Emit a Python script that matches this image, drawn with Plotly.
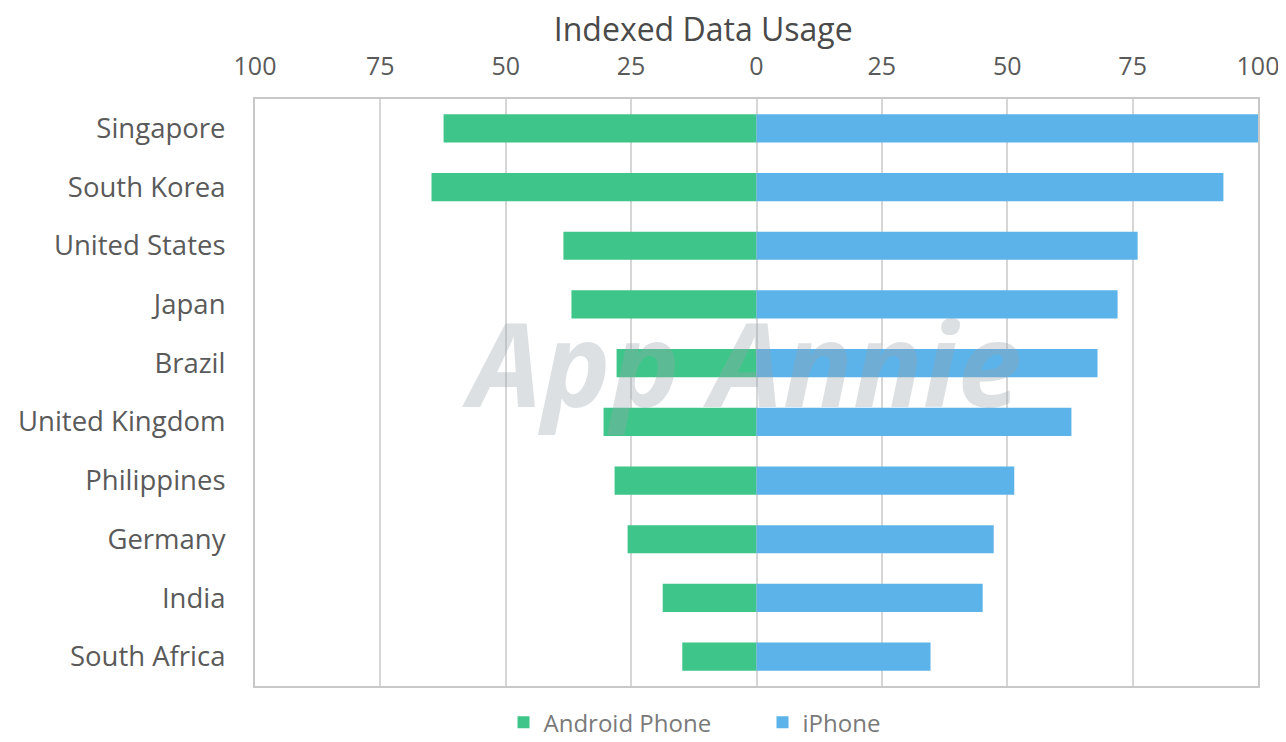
import plotly.graph_objects as go

countries = ["Singapore", "South Korea", "United States", "Japan", "Brazil",
             "United Kingdom", "Philippines", "Germany", "India", "South Africa"]
android = [62.4, 64.8, 38.5, 36.9, 27.9, 30.5, 28.3, 25.7, 18.7, 14.8]
iphone = [100, 93.1, 76.0, 72.0, 68.0, 62.8, 51.4, 47.3, 45.1, 34.7]
tick_vals = [-100, -75, -50, -25, 0, 25, 50, 75, 100]
tick_text = ["100", "75", "50", "25", "0", "25", "50", "75", "100"]

GREEN = "#3EC68A"
BLUE = "#5BB3E9"
FONT = "'Open Sans', sans-serif"

fig = go.Figure()
fig.add_trace(go.Bar(
    y=countries, x=[-v for v in android], orientation="h", name="Android Phone",
    marker=dict(color=GREEN, line=dict(width=0)), width=0.48,
))
fig.add_trace(go.Bar(
    y=countries, x=iphone, orientation="h", name="iPhone",
    marker=dict(color=BLUE, line=dict(width=0)), width=0.48,
))

fig.update_layout(
    width=1278, height=734,
    margin=dict(l=247, r=28, t=91, b=56, autoexpand=False),
    barmode="relative",
    plot_bgcolor="white", paper_bgcolor="white",
    font=dict(family=FONT, color="#5a5a5a", size=27),
    title=dict(text="Indexed Data Usage", x=0.544, xanchor="center", y=0.97, yanchor="middle",
               font=dict(size=32, color="#4a4a4a", family=FONT)),
    xaxis=dict(side="top", range=[-100, 100], tickvals=tick_vals, ticktext=tick_text,
               showgrid=True, gridcolor="#d6d6d6", gridwidth=1.5, zeroline=False,
               showline=True, linecolor="#c8c8c8", linewidth=2, mirror=True,
               ticks="", ticklabelstandoff=12, automargin=False,
               tickfont=dict(size=25, color="#5a5a5a")),
    yaxis=dict(autorange="reversed", showline=True, linecolor="#c8c8c8", linewidth=2,
               mirror=True, ticks="", ticklabelstandoff=22, automargin=False,
               tickfont=dict(size=27.5, color="#5a5a5a")),
    legend=dict(orientation="h", x=0.506, xanchor="center", y=-0.024, yanchor="top",
                font=dict(size=24, color="#7a7a7a"), itemsizing="constant",
                traceorder="normal", itemwidth=30, entrywidth=214, entrywidthmode="pixels"),
    bargap=0.5,
)

fig.add_annotation(
    text="<b><i>App Annie</i></b>", xref="paper", yref="paper", x=0.486, y=0.552,
    showarrow=False, font=dict(size=116, color="#9aa3ad", family=FONT), opacity=0.33,
)

fig.write_html("out.html")
